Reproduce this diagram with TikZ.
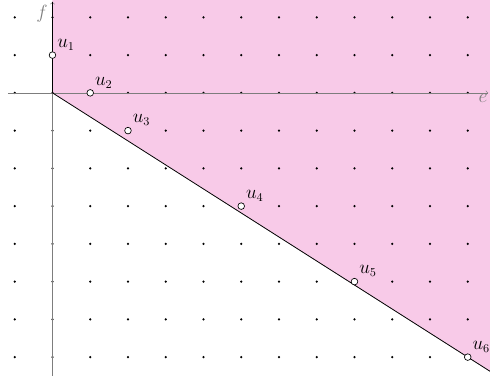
\documentclass[tikz,border=0pt]{standalone}
\usepackage{amsmath}
\definecolor{conepink}{RGB}{248,202,232}
\definecolor{axisgray}{RGB}{125,125,125}

\begin{document}
\begin{tikzpicture}[
    vertex/.style={circle, draw=black, fill=white, line width=0.5pt,
                   inner sep=0pt, minimum size=5pt},
    ulabel/.style={inner sep=1.5pt, font=\fontsize{13.5}{16}\selectfont}]

\useasboundingbox (-1.39,-7.63) rectangle (11.59,2.46);

% Cone (region above the boundary ray, right of f)
\fill[conepink] (0,0) -- (0,2.46) -- (11.59,2.46) -- (11.59,-7.375) -- cycle;

% Lattice points
\foreach \x in {-1,...,11}
  \foreach \y in {-7,...,2}
    \fill (\x,\y) circle (0.9pt);

% Axes
\draw[axisgray, ->, line width=0.4pt] (-1.18,0) -- (11.54,0)
    node[below left, ulabel, inner sep=0.5pt] (e) {$e$};
\draw[axisgray, ->, line width=0.4pt] (0,-7.5) -- (0,2.41)
    node[below left, ulabel, inner sep=0.5pt, xshift=-3pt, yshift=-2pt] (f) {$f$};

% Boundary of the cone
\draw[black, line width=0.6pt] (0,2.41) -- (0,0) -- (11.59,-7.375);

% Points u_k
\node[vertex, label={[ulabel]above right:$u_1$}] (u1) at (0,1)   {};
\node[vertex, label={[ulabel]above right:$u_2$}] (u2) at (1,0)   {};
\node[vertex, label={[ulabel]above right:$u_3$}] (u3) at (2,-1)  {};
\node[vertex, label={[ulabel]above right:$u_4$}] (u4) at (5,-3)  {};
\node[vertex, label={[ulabel]above right:$u_5$}] (u5) at (8,-5)  {};
\node[vertex, label={[ulabel]above right:$u_6$}] (u6) at (11,-7) {};

\end{tikzpicture}
\end{document}
